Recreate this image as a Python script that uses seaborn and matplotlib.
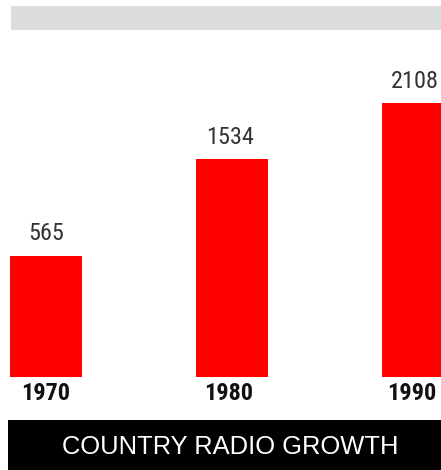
import matplotlib
matplotlib.use("Agg")
import matplotlib.pyplot as plt
from matplotlib.patches import Rectangle
import seaborn as sns
import pandas as pd

# ---- data ----
years = ["1970", "1980", "1990"]
stations = [565, 1534, 2108]
title = "COUNTRY RADIO GROWTH"

# ---- layout constants ----
BASE = -660          # baseline of the (non-zero based) bars
TOP = 3142
W, H = 441, 470

sns.set_theme(style="white")
COND = ["Roboto Condensed", "Archivo Narrow", "PT Sans Narrow", "DejaVu Sans"]
plt.rcParams["font.family"] = COND

fig = plt.figure(figsize=(W / 100, H / 100), dpi=100)
fig.patch.set_facecolor("white")

ax = fig.add_axes([0, 93 / H, 1, 377 / H])
df = pd.DataFrame({"year": years, "stations": stations})
df["span"] = df["stations"] - BASE

sns.barplot(data=df, x="year", y="span", bottom=BASE, width=72 / 186,
            color="#fe0000", saturation=1, linewidth=0, ax=ax)

ax.set_xlim(-46 / 186, 395 / 186)
ax.set_ylim(BASE, TOP)
ax.set_xlabel("")
ax.set_ylabel("")
ax.set_yticks([])
for s in ax.spines.values():
    s.set_visible(False)
ax.set_facecolor("none")
ax.set_xticks([])

label_dx = [0, -3, -6]
value_dy = [22, 22, 21]
for i, (y, v) in enumerate(zip(df["year"], df["stations"])):
    ax.annotate(str(v), xy=(i, v), xytext=(label_dx[i] * 0.5, value_dy[i]),
                textcoords="offset pixels",
                ha="center", va="center", fontsize=17.5, color="#333333")
    ax.annotate(y, xy=(i, BASE), xytext=(label_dx[i], -16), textcoords="offset pixels",
                ha="center", va="center", fontsize=17.5, fontweight="bold",
                color="#111111")

# grey band at top
fig.add_artist(Rectangle((11 / W, (H - 30) / H), 430 / W, 24 / H,
                         transform=fig.transFigure, facecolor="#dcdedd",
                         edgecolor="none"))
# black title banner
fig.add_artist(Rectangle((8 / W, 0), 433 / W, 50 / H,
                         transform=fig.transFigure, facecolor="black",
                         edgecolor="none"))
fig.text(230 / W, (H - 447) / H, title, ha="center", va="center",
         color="white", fontsize=18.4,
         family=["Liberation Sans", "DejaVu Sans"])

fig.savefig("out.png", dpi=100, facecolor="white")
